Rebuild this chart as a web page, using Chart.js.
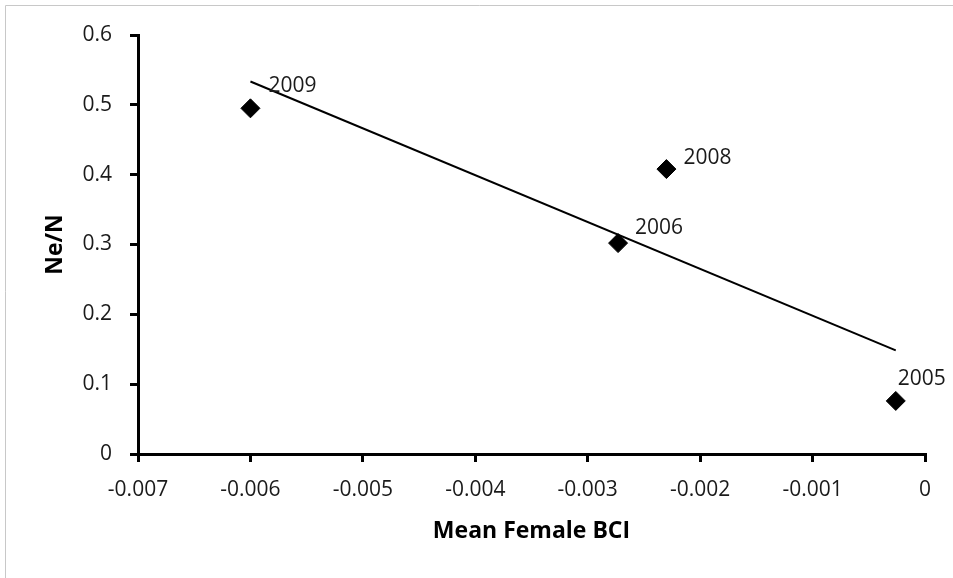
<!DOCTYPE html>
<html>
<head>
<meta charset="utf-8">
<script src="https://cdn.jsdelivr.net/npm/chart.js@4/dist/chart.umd.min.js"></script>
<style>
  html, body { margin: 0; padding: 0; background: #fff; }
  #wrap { position: absolute; left: 0; top: 0; width: 953px; height: 578px; }
</style>
</head>
<body>
<div id="wrap"><canvas id="c" width="953" height="578"></canvas></div>
<script>
// ---- Data ----
const bciValues = [-0.0060, -0.0023, -0.00273, -0.00026];   // Mean Female BCI
const neNValues = [0.495, 0.408, 0.302, 0.076];             // Ne/N
const yearLabels = ['2009', '2008', '2006', '2005'];

const xTickValues = [-0.007, -0.006, -0.005, -0.004, -0.003, -0.002, -0.001, 0];
const xTickLabels = ['-0.007', '-0.006', '-0.005', '-0.004', '-0.003', '-0.002', '-0.001', '0'];
const yTickValues = [0, 0.1, 0.2, 0.3, 0.4, 0.5, 0.6];
const yTickLabels = ['0', '0.1', '0.2', '0.3', '0.4', '0.5', '0.6'];

const xTitle = 'Mean Female BCI';
const yTitle = 'Ne/N';

// ---- Linear trend line (least squares over the data, spanning the data range) ----
function linearFit(xs, ys) {
  const n = xs.length;
  const mx = xs.reduce((a, b) => a + b, 0) / n;
  const my = ys.reduce((a, b) => a + b, 0) / n;
  let sxy = 0, sxx = 0;
  for (let i = 0; i < n; i++) { sxy += (xs[i] - mx) * (ys[i] - my); sxx += (xs[i] - mx) ** 2; }
  const slope = sxy / sxx;
  return { slope, intercept: my - slope * mx };
}
const fit = linearFit(bciValues, neNValues);
const xMinData = Math.min(...bciValues), xMaxData = Math.max(...bciValues);
const trendPoints = [xMinData, xMaxData].map(x => ({ x, y: fit.slope * x + fit.intercept }));

const scatterPoints = bciValues.map((x, i) => ({ x, y: neNValues[i] }));

// ---- Plugins ----
const frame = {
  id: 'frame',
  beforeDraw(chart) {
    const ctx = chart.ctx;
    ctx.save();
    ctx.strokeStyle = '#c8c8c8';
    ctx.lineWidth = 1;
    ctx.beginPath();
    ctx.moveTo(5.5, chart.height);
    ctx.lineTo(5.5, 5.5);
    ctx.lineTo(chart.width, 5.5);
    ctx.stroke();
    ctx.restore();
  }
};

const pointLabels = {
  id: 'pointLabels',
  afterDatasetsDraw(chart, args, opts) {
    const meta = chart.getDatasetMeta(1);
    const ctx = chart.ctx;
    ctx.save();
    ctx.font = opts.font;
    ctx.fillStyle = opts.color;
    ctx.textAlign = 'left';
    ctx.textBaseline = 'middle';
    meta.data.forEach((el, i) => {
      const off = opts.offsets[i] || [15, -15];
      ctx.fillText(yearLabels[i], el.x + off[0], el.y + off[1]);
    });
    ctx.restore();
  }
};

const tickFont = { family: "'Open Sans', 'Noto Sans', sans-serif", size: 21 };
const titleFont = { family: "'Open Sans', 'Noto Sans', sans-serif", size: 23, weight: 'bold' };

new Chart(document.getElementById('c'), {
  type: 'scatter',
  data: {
    datasets: [
      {
        type: 'line',
        label: 'Trend',
        data: trendPoints,
        borderColor: '#000',
        borderWidth: 2,
        pointRadius: 0,
        fill: false,
        order: 2
      },
      {
        label: 'Ne/N',
        data: scatterPoints,
        pointStyle: 'rectRot',
        pointRadius: 9.5,
        pointHoverRadius: 9.5,
        backgroundColor: '#000',
        borderColor: '#000',
        borderWidth: 1,
        order: 1
      }
    ]
  },
  options: {
    responsive: false,
    devicePixelRatio: 1,
    animation: false,
    events: [],
    layout: { padding: { top: 35, right: 28, bottom: 0, left: 0 } },
    plugins: {
      legend: { display: false },
      tooltip: { enabled: false },
      pointLabels: {
        font: "21px 'Open Sans', 'Noto Sans', sans-serif",
        color: '#1a1a1a',
        offsets: [[18, -22], [17, -11], [17, -15], [2, -22]]
      }
    },
    scales: {
      x: {
        type: 'linear',
        min: -0.007,
        max: 0,
        afterBuildTicks(scale) { scale.ticks = xTickValues.map(v => ({ value: v })); },
        afterFit(scale) { scale.height = 124; },
        ticks: {
          font: tickFont,
          color: '#1a1a1a',
          padding: 15,
          maxRotation: 0,
          autoSkip: false,
          callback: (v, i) => xTickLabels[i]
        },
        grid: { drawOnChartArea: false, drawTicks: true, tickLength: 8, lineWidth: 3, color: '#000' },
        border: { display: true, width: 3, color: '#000' },
        title: { display: true, text: xTitle, font: titleFont, color: '#000', padding: { top: 0, bottom: 33 } }
      },
      y: {
        type: 'linear',
        min: 0,
        max: 0.6,
        afterBuildTicks(scale) { scale.ticks = yTickValues.map(v => ({ value: v })); },
        afterFit(scale) { scale.width = 138; },
        ticks: {
          font: tickFont,
          color: '#1a1a1a',
          padding: 18,
          autoSkip: false,
          callback: (v, i) => yTickLabels[i]
        },
        grid: { drawOnChartArea: false, drawTicks: true, tickLength: 8, lineWidth: 3, color: '#000' },
        border: { display: true, width: 3, color: '#000' },
        title: { display: true, text: yTitle, font: titleFont, color: '#000', padding: { top: 42, bottom: 0 } }
      }
    }
  },
  plugins: [frame, pointLabels]
});
</script>
</body>
</html>
